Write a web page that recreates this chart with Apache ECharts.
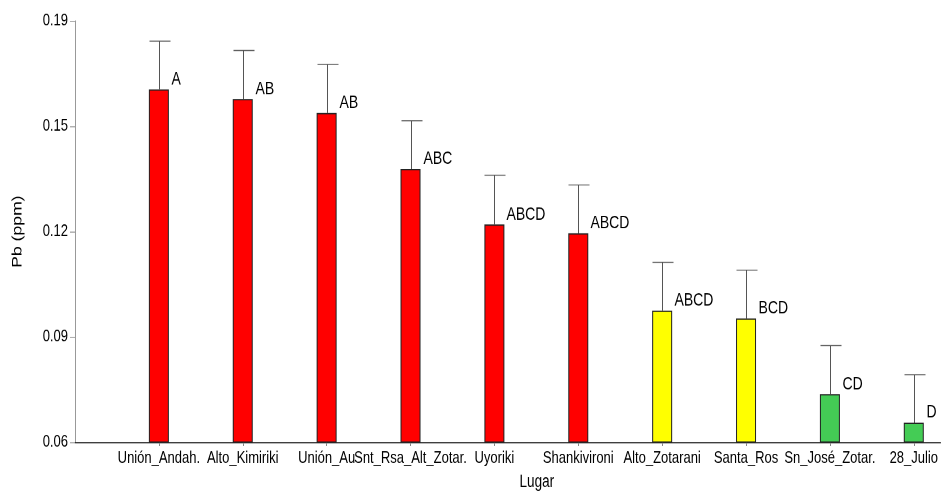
<!DOCTYPE html>
<html>
<head>
<meta charset="utf-8">
<script src="https://cdn.jsdelivr.net/npm/echarts@6/dist/echarts.min.js"></script>
<style>
html,body{margin:0;padding:0;background:#fff;overflow:hidden}
#wrap{width:941px;height:498px;overflow:hidden}
#c{width:941px;height:383px;transform-origin:0 0;transform:scaleY(1.30026)}
</style>
</head>
<body>
<div id="wrap"><div id="c"></div></div>
<script>
const categories = ['Unión_Andah.','Alto_Kimiriki','Unión_Au','Snt_Rsa_Alt_Zotar.','Uyoriki','Shankivironi','Alto_Zotarani','Santa_Ros','Sn_José_Zotar.','28_Julio'];
const means = [0.1689, 0.1659, 0.1616, 0.1443, 0.1272, 0.1245, 0.1006, 0.0982, 0.0748, 0.0660];
const upper = [0.1838, 0.1809, 0.1766, 0.1592, 0.1424, 0.1394, 0.1155, 0.1131, 0.0898, 0.0808];
const letters = ['A','AB','AB','ABC','ABCD','ABCD','ABCD','BCD','CD','D'];
const groups = ['red','red','red','red','red','red','yellow','yellow','green','green'];
const yTickValues = [0.06, 0.0925, 0.125, 0.1575, 0.19];
const yTickLabels = ['0.06','0.09','0.12','0.15','0.19'];

// The reference's text is drawn taller than wide; the chart is rendered
// in a shorter box and stretched vertically by S to match.
const S = 498 / 383;
const groupColor = {red:'#FF0000', yellow:'#FFFF00', green:'#44CC55'};
const FONT = "'Liberation Sans', Arial, sans-serif";
const HL = 1 / S; // horizontal line width so it ends ~1px after stretch

const chart = echarts.init(document.getElementById('c'), null, {renderer:'canvas', devicePixelRatio: 2});
const idx = categories.map((_, i) => i);

chart.setOption({
  animation: false,
  backgroundColor: '#fff',
  grid: {left: 75, right: 0, top: 21 / S, bottom: 44.7 / S, containLabel: false},
  xAxis: {
    type: 'value', min: -1, max: 9.32,
    name: 'Lugar', nameLocation: 'middle', nameGap: 24,
    nameTextStyle: {fontFamily: FONT, fontSize: 13.5, color: '#000', padding: [0, 0, 0, 58]},
    axisLine: {show: true, onZero: false, lineStyle: {color: '#000', width: HL}},
    axisTick: {show: true, length: 3, customValues: idx, lineStyle: {color: '#888'}},
    axisLabel: {customValues: idx, margin: 6, fontFamily: FONT, fontSize: 13, color: '#000',
      formatter: v => categories[Math.round(v)] || ''},
    splitLine: {show: false}
  },
  yAxis: {
    type: 'value', min: 0.06, max: 0.19,
    name: 'Pb (ppm)', nameLocation: 'middle', nameGap: 50, nameRotate: 90,
    nameTextStyle: {fontFamily: FONT, fontSize: 13.5, color: '#000'},
    axisLine: {show: true, onZero: false, lineStyle: {color: '#999', width: 1}},
    axisTick: {show: true, length: 5, customValues: yTickValues, lineStyle: {color: '#999', width: HL}},
    axisLabel: {customValues: yTickValues, margin: 7, fontFamily: FONT, fontSize: 13, color: '#000',
      formatter: v => { const k = yTickValues.findIndex(t => Math.abs(t - v) < 1e-9); return k >= 0 ? yTickLabels[k] : ''; }},
    splitLine: {show: false}
  },
  series: [
    {
      type: 'bar',
      barWidth: 20,
      clip: true,
      data: means.map((m, i) => ({value: [i, m], itemStyle: {color: groupColor[groups[i]]}})),
      itemStyle: {borderColor: '#222', borderWidth: 1}
    },
    {
      type: 'custom',
      clip: false,
      data: means.map((m, i) => [i, m, upper[i]]),
      renderItem: function (params, api) {
        const i = api.value(0);
        const p1 = api.coord([i, api.value(1)]);
        const p2 = api.coord([i, api.value(2)]);
        const x = Math.round(p1[0]) + 0.5;
        return {
          type: 'group',
          children: [
            {type: 'line', shape: {x1: x, y1: p1[1], x2: x, y2: p2[1]}, style: {stroke: '#555', lineWidth: 1}},
            {type: 'line', shape: {x1: x - 10, y1: p2[1], x2: x + 11, y2: p2[1]}, style: {stroke: '#555', lineWidth: HL}},
            {type: 'text', x: x + 12, y: p1[1] - 10 / S,
              style: {text: letters[params.dataIndex], fill: '#000', font: '14px ' + FONT, textAlign: 'left', textVerticalAlign: 'middle'}}
          ]
        };
      }
    }
  ]
});
</script>
</body>
</html>
